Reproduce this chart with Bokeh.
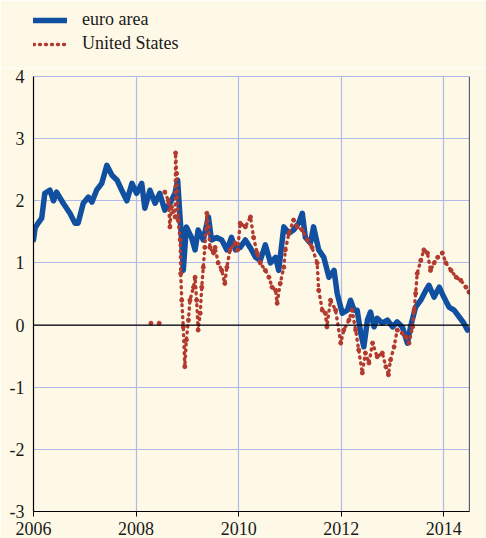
from bokeh.plotting import figure
from bokeh.models import (Range1d, FixedTicker, LinearAxis, Span, Legend, LegendItem)
from bokeh.layouts import column
from bokeh.embed import file_html
from bokeh.resources import INLINE

# ---- data ----
euro_years = [2006.0, 2006.03, 2006.09, 2006.16, 2006.22, 2006.32, 2006.39, 2006.45, 2006.58, 2006.71,
              2006.81, 2006.87, 2006.97, 2007.07, 2007.14, 2007.23, 2007.33, 2007.43, 2007.53, 2007.63,
              2007.72, 2007.82, 2007.92, 2008.01, 2008.11, 2008.17, 2008.27, 2008.37, 2008.46, 2008.56,
              2008.66, 2008.76, 2008.81, 2008.86, 2008.89, 2008.92, 2008.98, 2009.08, 2009.15, 2009.21,
              2009.31, 2009.41, 2009.47, 2009.57, 2009.67, 2009.77, 2009.86, 2009.94, 2010.03, 2010.13,
              2010.23, 2010.33, 2010.42, 2010.52, 2010.62, 2010.72, 2010.78, 2010.88, 2010.98, 2011.07,
              2011.17, 2011.24, 2011.30, 2011.40, 2011.46, 2011.56, 2011.66, 2011.76, 2011.86, 2011.92,
              2012.02, 2012.12, 2012.18, 2012.25, 2012.31, 2012.38, 2012.44, 2012.51, 2012.57, 2012.64,
              2012.70, 2012.80, 2012.90, 2013.00, 2013.09, 2013.19, 2013.29, 2013.35, 2013.45, 2013.55,
              2013.65, 2013.71, 2013.81, 2013.91, 2014.00, 2014.10, 2014.20, 2014.30, 2014.39, 2014.46]
euro_area = [1.37, 1.56, 1.64, 1.72, 2.12, 2.17, 2.00, 2.14, 1.96, 1.80,
             1.64, 1.64, 1.96, 2.06, 1.98, 2.17, 2.28, 2.57, 2.41, 2.33,
             2.17, 2.00, 2.28, 2.12, 2.28, 1.88, 2.17, 1.96, 2.12, 1.85,
             1.96, 2.12, 2.33, 1.69, 1.37, 0.88, 1.58, 1.41, 1.21, 1.53,
             1.37, 1.74, 1.37, 1.41, 1.37, 1.21, 1.41, 1.21, 1.25, 1.37,
             1.24, 1.09, 1.04, 1.29, 1.00, 1.09, 0.88, 1.58, 1.48, 1.53,
             1.64, 1.80, 1.41, 1.32, 1.58, 1.21, 1.09, 0.77, 0.88, 0.51,
             0.19, 0.24, 0.40, 0.24, 0.24, -0.13, -0.35, 0.08, 0.21, -0.03,
             0.11, 0.03, 0.08, -0.03, 0.05, -0.03, -0.29, -0.03, 0.29, 0.40,
             0.56, 0.64, 0.45, 0.61, 0.45, 0.29, 0.24, 0.13, 0.03, -0.08]

us_years = [2008.56, 2008.63, 2008.66, 2008.69, 2008.76, 2008.77, 2008.79, 2008.82, 2008.86, 2008.87,
            2008.89, 2008.92, 2008.95, 2008.98, 2009.02, 2009.05, 2009.12, 2009.15, 2009.18, 2009.21,
            2009.25, 2009.28, 2009.31, 2009.34, 2009.38, 2009.41, 2009.44, 2009.51, 2009.54, 2009.60,
            2009.67, 2009.73, 2009.77, 2009.83, 2009.93, 2009.98, 2010.03, 2010.13, 2010.23, 2010.29,
            2010.36, 2010.42, 2010.52, 2010.59, 2010.65, 2010.72, 2010.75, 2010.81, 2010.88, 2010.91,
            2010.98, 2011.07, 2011.14, 2011.24, 2011.34, 2011.43, 2011.53, 2011.56, 2011.63, 2011.69,
            2011.72, 2011.79, 2011.89, 2011.99, 2012.05, 2012.15, 2012.21, 2012.28, 2012.34, 2012.41,
            2012.47, 2012.54, 2012.61, 2012.70, 2012.80, 2012.87, 2012.92, 2012.96, 2013.03, 2013.09,
            2013.19, 2013.26, 2013.32, 2013.39, 2013.42, 2013.45, 2013.48, 2013.55, 2013.61, 2013.68,
            2013.74, 2013.81, 2013.88, 2013.97, 2014.04, 2014.14, 2014.24, 2014.33, 2014.43, 2014.49]
united_states = [2.14, 2.00, 1.58, 1.90, 1.74, 2.77, 2.44, 1.69, 1.37, 0.83,
                 0.40, -0.03, -0.67, -0.24, 0.08, 0.40, 0.61, 0.77, 0.40, -0.08,
                 0.19, 0.61, 0.93, 1.25, 1.80, 1.58, 1.25, 1.16, 1.25, 1.00,
                 0.88, 0.67, 0.93, 1.21, 1.32, 1.21, 1.64, 1.58, 1.74, 1.41,
                 1.16, 1.00, 0.88, 0.77, 0.61, 0.56, 0.35, 0.67, 0.93, 1.21,
                 1.48, 1.69, 1.58, 1.53, 1.37, 1.25, 1.00, 0.56, 0.24, 0.19,
                 -0.03, 0.40, 0.24, -0.29, -0.08, 0.08, 0.24, -0.08, -0.40, -0.77,
                 -0.45, -0.61, -0.29, -0.51, -0.45, -0.67, -0.80, -0.56, -0.35, -0.08,
                 -0.13, -0.19, -0.29, -0.03, 0.24, 0.51, 0.83, 1.04, 1.21, 1.16,
                 0.88, 1.00, 1.09, 1.16, 1.00, 0.88, 0.77, 0.72, 0.61, 0.53]
us_early_years = [2008.29, 2008.45]
us_early_values = [0.03, 0.03]

series_names = ["euro area", "United States"]
x_ticks = [2006, 2008, 2010, 2012, 2014]
y_ticks = [-3, -2, -1, 0, 1, 2, 3, 4]
y_tick_labels = {t: str(t) for t in y_ticks}

BG = "#FEF9E7"
GRID = "#AFBAE8"
BLUE = "#1150A0"
RED = "#B23A2E"
FONT = "Liberation Serif, Times New Roman, serif"
TXT = "#1a1a1a"

EURO_STYLE = dict(line_color=BLUE, line_width=5.5, line_join="round", line_cap="round")
US_STYLE = dict(line_color=RED, line_width=3.4, line_dash="1 5", line_cap="round", line_join="round")

# ---- legend strip above the chart (its own ranges keep the series out of view) ----
lf = figure(width=486, height=68, output_backend="svg", toolbar_location=None,
            x_range=Range1d(0, 1), y_range=Range1d(0, 1),
            x_axis_location=None, y_axis_location=None,
            background_fill_color=BG, border_fill_color=BG,
            min_border_left=32, min_border_top=9, min_border_right=0, min_border_bottom=0)
lf.outline_line_color = None
for g in lf.grid:
    g.visible = False
l_euro = lf.line(euro_years, euro_area, **EURO_STYLE)
l_us = lf.line(us_years, united_states, **US_STYLE)
legend = Legend(items=[LegendItem(label=series_names[0], renderers=[l_euro]),
                       LegendItem(label=series_names[1], renderers=[l_us])],
                location="top_left", padding=0, margin=0, spacing=3,
                glyph_width=34, glyph_height=20, label_height=20, label_standoff=15,
                border_line_color=None, background_fill_alpha=0,
                label_text_font=FONT, label_text_font_size="18px", label_text_color=TXT)
lf.add_layout(legend, "center")

# ---- main chart ----
p = figure(width=486, height=470, output_backend="svg", toolbar_location=None,
           x_range=Range1d(2006, 2014.5), y_range=Range1d(-3, 4),
           background_fill_color=BG, border_fill_color=BG,
           min_border_left=33, min_border_top=8, min_border_bottom=27, min_border_right=17,
           y_axis_location=None)
p.outline_line_color = GRID
p.outline_line_width = 1

p.xaxis.ticker = FixedTicker(ticks=x_ticks)
p.xaxis.major_tick_out = 5
p.xaxis.major_tick_in = 0
p.xaxis.minor_tick_out = 0
p.xaxis.minor_tick_in = 0
p.xaxis.major_label_standoff = 5
p.xaxis.major_label_text_font = FONT
p.xaxis.major_label_text_font_size = "18px"
p.xaxis.major_label_text_color = TXT
p.xaxis.axis_line_color = "black"
p.xaxis.axis_line_width = 1.2
p.xaxis.major_tick_line_color = "black"

left = LinearAxis(ticker=FixedTicker(ticks=y_ticks), major_tick_out=0, major_tick_in=0,
                  minor_tick_out=0, minor_tick_in=0, major_label_standoff=9,
                  major_label_overrides=y_tick_labels,
                  major_label_text_font=FONT, major_label_text_font_size="18px",
                  major_label_text_color=TXT, axis_line_color="black", axis_line_width=1.2)
p.add_layout(left, "left")

# right-hand axis line
p.add_layout(Span(location=2014.5, dimension="height", line_color="black", line_width=1.2))

p.xgrid.ticker = FixedTicker(ticks=x_ticks)
p.ygrid.ticker = FixedTicker(ticks=y_ticks)
p.xgrid.grid_line_color = GRID
p.ygrid.grid_line_color = GRID
p.xgrid.grid_line_width = 1.2
p.ygrid.grid_line_width = 1.2

p.add_layout(Span(location=0, dimension="width", line_color="black", line_width=1.3))

p.line(euro_years, euro_area, **EURO_STYLE)
p.line(us_years, united_states, **US_STYLE)
p.scatter(us_years, united_states, size=4, color=RED)
p.scatter(us_early_years, us_early_values, size=4, color=RED)

lay = column(lf, p, spacing=0)
open("out.html", "w").write(file_html(lay, INLINE))
